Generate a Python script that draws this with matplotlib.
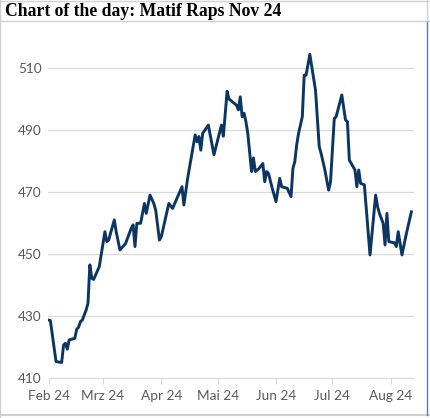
import numpy as np
import pandas as pd
import matplotlib
matplotlib.use("Agg")
import matplotlib.pyplot as plt
import matplotlib.dates as mdates
from matplotlib.lines import Line2D

# Matif rapeseed Nov 24
dates = [
    "2024-02-01", "2024-02-02", "2024-02-05", "2024-02-08", "2024-02-09", "2024-02-10",
    "2024-02-11", "2024-02-12", "2024-02-15", "2024-02-16", "2024-02-17", "2024-02-18",
    "2024-02-19", "2024-02-21", "2024-02-22", "2024-02-23", "2024-02-24", "2024-02-25",
    "2024-02-28", "2024-03-02", "2024-03-03", "2024-03-04", "2024-03-07", "2024-03-08",
    "2024-03-10", "2024-03-13", "2024-03-16", "2024-03-17", "2024-03-18", "2024-03-19",
    "2024-03-21", "2024-03-23", "2024-03-24", "2024-03-26", "2024-03-28", "2024-03-29",
    "2024-03-31", "2024-04-01", "2024-04-05", "2024-04-07", "2024-04-12", "2024-04-13",
    "2024-04-15", "2024-04-19", "2024-04-20", "2024-04-21", "2024-04-22", "2024-04-23",
    "2024-04-26", "2024-04-29", "2024-05-03", "2024-05-04", "2024-05-06", "2024-05-07",
    "2024-05-11", "2024-05-12", "2024-05-13", "2024-05-14", "2024-05-15", "2024-05-16",
    "2024-05-17", "2024-05-19", "2024-05-20", "2024-05-21", "2024-05-23", "2024-05-25",
    "2024-05-26", "2024-05-27", "2024-05-28", "2024-05-30", "2024-06-01", "2024-06-03",
    "2024-06-04", "2024-06-07", "2024-06-09", "2024-06-10", "2024-06-11", "2024-06-12",
    "2024-06-13", "2024-06-15", "2024-06-16", "2024-06-17", "2024-06-19", "2024-06-20",
    "2024-06-22", "2024-06-24", "2024-06-25", "2024-06-27", "2024-06-29", "2024-06-30",
    "2024-07-02", "2024-07-03", "2024-07-06", "2024-07-08", "2024-07-09", "2024-07-10",
    "2024-07-13", "2024-07-14", "2024-07-15", "2024-07-16", "2024-07-18", "2024-07-21",
    "2024-07-24", "2024-07-25", "2024-07-26", "2024-07-28", "2024-07-29", "2024-07-30",
    "2024-07-31", "2024-08-03", "2024-08-04", "2024-08-05", "2024-08-07", "2024-08-09",
    "2024-08-10", "2024-08-11", "2024-08-12",
]
prices = [
    428.7, 428.5, 415.3, 415.0, 420.6, 421.2,
    419.3, 422.3, 422.8, 425.7, 426.4, 428.2,
    428.7, 431.9, 434.1, 446.5, 442.2, 441.8,
    445.9, 457.2, 454.0, 454.5, 461.0, 457.2,
    451.3, 453.4, 458.3, 459.4, 452.4, 459.9,
    459.9, 466.3, 463.1, 469.0, 466.3, 464.2,
    454.5, 455.6, 466.3, 464.7, 471.7, 465.8,
    474.4, 488.4, 486.2, 487.9, 483.5, 488.9,
    491.6, 482.0, 491.6, 488.0, 502.5, 500.0,
    498.0, 496.5, 500.7, 494.3, 495.4, 492.7,
    488.9, 476.6, 481.0, 476.6, 477.6, 479.2,
    473.3, 476.6, 476.0, 471.2, 466.9, 474.4,
    471.7, 471.2, 468.5, 477.6, 479.8, 485.2,
    488.9, 494.3, 507.7, 507.7, 514.4, 510.5,
    502.9, 484.6, 482.4, 477.1, 470.6, 473.3,
    493.7, 494.3, 501.3, 493.2, 492.7, 480.3,
    477.1, 471.7, 477.1, 472.8, 472.3, 449.7,
    469.0, 465.3, 463.1, 459.9, 452.9, 463.1,
    454.0, 453.6, 452.4, 457.2, 449.7, 455.6,
    458.3, 461.0, 463.6,
]
yticks = [410, 430, 450, 470, 490, 510]
month_ticks = ["2024-02-01", "2024-03-01", "2024-04-01", "2024-05-01",
               "2024-06-01", "2024-07-01", "2024-08-01"]
month_labels = ["Feb 24", "Mrz 24", "Apr 24", "Mai 24", "Jun 24", "Jul 24", "Aug 24"]

x = pd.to_datetime(dates)

W, H = 431, 418
fig = plt.figure(figsize=(W / 100, H / 100), dpi=100)
ax = fig.add_axes([48.5 / W, 1 - 378 / H, (414 - 48.5) / W, (378 - 37) / H])

ax.plot(x, prices, color="#0b3563", linewidth=2.1, solid_joinstyle="round")

start = pd.Timestamp("2024-02-01")
ax.set_xlim(start, start + pd.Timedelta(days=194.4))
ax.set_ylim(410, 520)
ax.set_yticks(yticks)
ax.set_xticks(pd.to_datetime(month_ticks))
ax.set_xticklabels(month_labels)

for s in ["top", "right", "left"]:
    ax.spines[s].set_visible(False)
ax.spines["bottom"].set_color("#d9d9d9")
ax.grid(axis="y", color="#d9d9d9", linewidth=0.9)
ax.set_axisbelow(True)
ax.tick_params(axis="y", length=0, pad=5, labelsize=9.8, labelcolor="#595959")
ax.tick_params(axis="x", length=4, color="#d9d9d9", pad=5, labelsize=9.8,
               labelcolor="#595959")
for lab in ax.get_xticklabels() + ax.get_yticklabels():
    lab.set_family("Lato")

# title band and frame
fig.text(5 / W, 1 - 11 / H, "Chart of the day: Matif Raps Nov 24", family="Liberation Serif",
         weight="bold", fontsize=12.7, va="center", ha="left")
fig.add_artist(Line2D([0, 1], [1 - 21 / H, 1 - 21 / H], color="#d0d0d0", lw=1))
fig.add_artist(Line2D([0, 1], [1 - 0.5 / H, 1 - 0.5 / H], color="#d0d0d0", lw=1))
fig.add_artist(Line2D([0.5 / W, 0.5 / W], [0, 1], color="#d0d0d0", lw=1))
fig.add_artist(Line2D([0, 1], [3 / H, 3 / H], color="#d0d0d0", lw=1.5))
fig.add_artist(Line2D([427.5 / W, 427.5 / W], [3 / H, 1 - 21 / H], color="#4f81bd", lw=1))
fig.add_artist(Line2D([427.5 / W, 427.5 / W], [1 - 21 / H, 1], color="#d0d0d0", lw=1))

fig.savefig("out.png", dpi=100)
